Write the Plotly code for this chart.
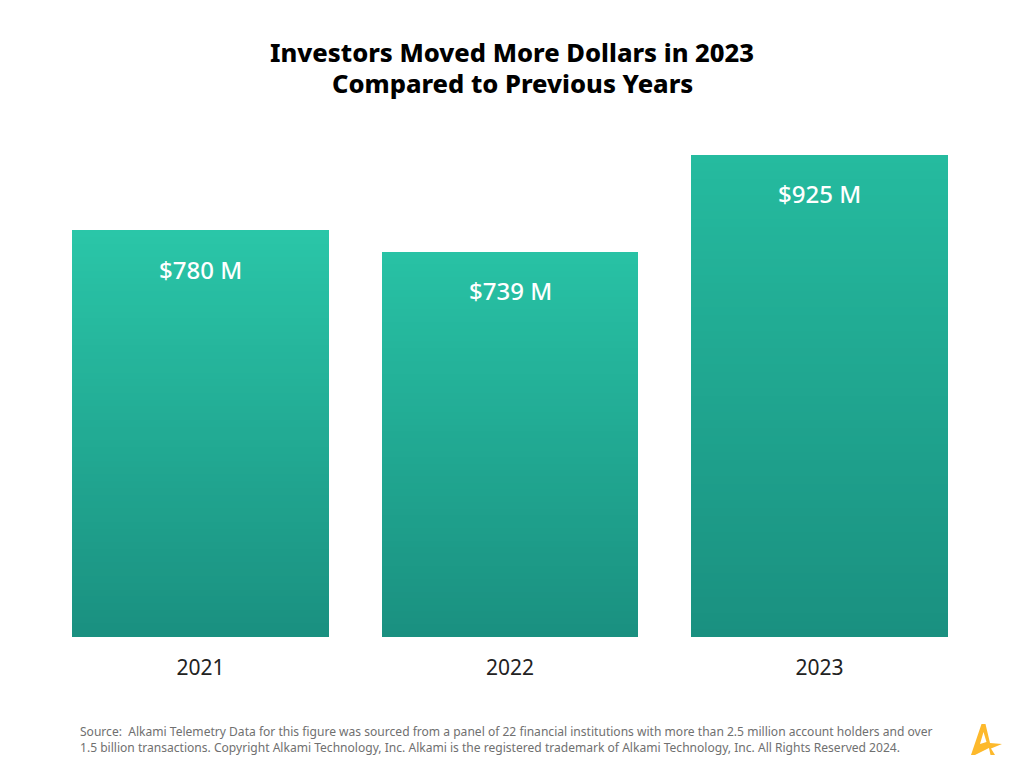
import plotly.graph_objects as go

YEARS = ['2021', '2022', '2023']
MOVED_MILLIONS = [780, 739, 925]
VALUE_LABELS = ['$780 M', '$739 M', '$925 M']

TITLE_LINES = ['Investors Moved More Dollars in 2023', 'Compared to Previous Years']
SOURCE = ('Source:  Alkami Telemetry Data for this figure was sourced from a panel of 22 financial institutions '
          'with more than 2.5 million account holders and over<br>'
          '1.5 billion transactions. Copyright Alkami Technology, Inc. Alkami is the registered trademark of '
          'Alkami Technology, Inc. All Rights Reserved 2024.')

WIDTH = 1024
HEIGHT = 782
FONT_BODY = 'Noto Sans, sans-serif'
COLORS_TOP = [(42, 198, 168), (40, 194, 165), (37, 187, 159)]  # one per bar, the taller bars start darker
COLOR_BOTTOM = (26, 144, 128)
COLOR_LOGO = '#fdb92c'
GRADIENT_STEPS = 60

# logo outline in page pixels
LOGO_PATH = [(971, 755), (981.5, 724), (985.5, 724), (990, 743), (1002, 744), (991, 748.5), (995, 755),
             (990.5, 755), (989, 748), (975, 755)]
LOGO_HOLE = [(980, 744), (983.5, 732), (986.5, 742)]


def mix_color(color_top, share):
    rgb = [round(t + (b - t) * share) for t, b in zip(color_top, COLOR_BOTTOM)]
    return f'rgb({rgb[0]},{rgb[1]},{rgb[2]})'


def to_paper_path(points):
    coords = [f'{x / WIDTH:.5f},{1 - y / HEIGHT:.5f}' for x, y in points]
    return 'M' + ' L'.join(coords) + ' Z'


fig = go.Figure()

# plotly bars have no gradient fill, so every bar is stacked from thin slices
for step in range(GRADIENT_STEPS):
    share = 1 - (step + 0.5) / GRADIENT_STEPS
    fig.add_trace(go.Bar(x=YEARS,
                         y=[v / GRADIENT_STEPS for v in MOVED_MILLIONS],
                         marker_color=[mix_color(c, share) for c in COLORS_TOP],
                         marker_line_width=0,
                         hoverinfo='skip',
                         showlegend=False))

# annotations on a category axis take the category index, not its name
for index, (value, label) in enumerate(zip(MOVED_MILLIONS, VALUE_LABELS)):
    fig.add_annotation(x=index, y=value, text=label, showarrow=False, yanchor='middle', yshift=-39,
                       font=dict(family=FONT_BODY, size=24, color='white', weight=500))

fig.add_annotation(xref='paper', yref='paper', x=0.5, y=1 - 83 / HEIGHT, text=TITLE_LINES[1],
                   showarrow=False, yanchor='middle',
                   font=dict(family=FONT_BODY, size=25.5, color='black', weight=800))

fig.add_annotation(xref='paper', yref='paper', x=78 / WIDTH, y=1 - 739.5 / HEIGHT, text=SOURCE,
                   showarrow=False, xanchor='left', yanchor='middle', align='left',
                   font=dict(family=FONT_BODY, size=12.07, color='#707070'))

fig.add_shape(type='path', xref='paper', yref='paper', fillcolor=COLOR_LOGO, line_width=0, fillrule='evenodd',
              path=to_paper_path(LOGO_PATH) + ' ' + to_paper_path(LOGO_HOLE))

fig.update_xaxes(type='category',
                 domain=[45.75 / WIDTH, 974.25 / WIDTH],
                 showgrid=False,
                 showline=False,
                 ticks='',
                 ticklabelstandoff=16,
                 tickfont=dict(family=FONT_BODY, size=21, color='#222222'))
fig.update_yaxes(range=[0, 1000],
                 domain=[1 - 637 / HEIGHT, 1 - 115.4 / HEIGHT],
                 visible=False)
fig.update_layout(width=WIDTH,
                  height=HEIGHT,
                  barmode='stack',
                  bargap=0.17,
                  margin=dict(l=0, r=0, t=0, b=0),
                  paper_bgcolor='white',
                  plot_bgcolor='white',
                  title=dict(text=TITLE_LINES[0], x=0.5, xanchor='center', y=1 - 53 / HEIGHT, yanchor='middle',
                             font=dict(family=FONT_BODY, size=25.5, color='black', weight=800)))

fig.write_html("out.html", config=dict(displayModeBar=False),
               post_script="document.body.style.margin='0';document.body.style.overflow='hidden';")
